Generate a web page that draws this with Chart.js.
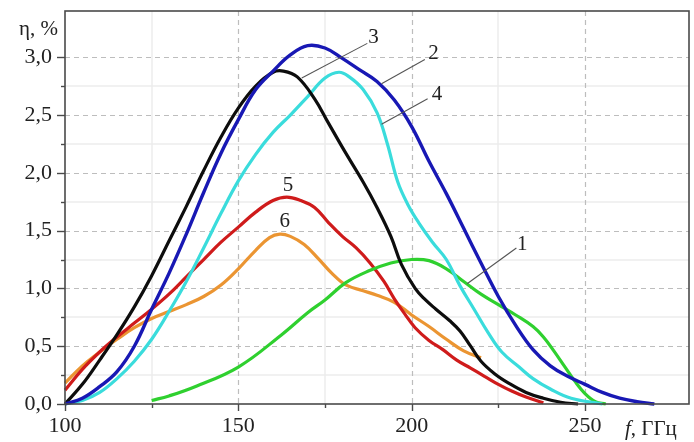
<!DOCTYPE html>
<html>
<head>
<meta charset="utf-8">
<script src="https://cdn.jsdelivr.net/npm/chart.js@4.4.1/dist/chart.umd.min.js"></script>
<style>
  html, body { margin: 0; padding: 0; background: #fff; }
  #wrap { width: 694px; height: 442px; }
</style>
</head>
<body>
<div id="wrap"><canvas id="c" width="694" height="442"></canvas></div>
<script>
// Efficiency η (%) versus frequency f (GHz) for six configurations.
const curve1F   = [125, 130, 137.5, 150, 162.5, 170, 175, 181, 187.5, 194, 200, 205, 210, 215, 220, 225, 230, 235, 238, 241, 244, 247, 250, 253, 256];
const curve1Eta = [0.03, 0.07, 0.15, 0.32, 0.6, 0.79, 0.9, 1.05, 1.15, 1.22, 1.25, 1.24, 1.17, 1.06, 0.95, 0.86, 0.77, 0.67, 0.58, 0.46, 0.33, 0.2, 0.09, 0.02, 0.0];

const curve2F   = [100, 105, 110, 115, 120, 125, 130, 135, 140, 145, 150, 155, 160, 165, 170, 175, 180, 185, 190, 195, 200, 205, 210, 215, 220, 225, 230, 235, 240, 245, 250, 255, 260, 265, 270];
const curve2Eta = [0, 0.05, 0.15, 0.28, 0.5, 0.82, 1.13, 1.47, 1.83, 2.17, 2.46, 2.72, 2.88, 3.02, 3.1, 3.08, 2.99, 2.89, 2.79, 2.63, 2.4, 2.1, 1.82, 1.52, 1.22, 0.93, 0.68, 0.47, 0.33, 0.24, 0.17, 0.1, 0.05, 0.02, 0];

const curve3F   = [100, 105, 110, 115, 120, 125, 130, 135, 140, 145, 150, 155, 160, 163, 167, 172, 176, 181, 186, 190, 194, 197, 201, 204, 207, 211, 214, 217, 220, 224, 228, 233, 238, 243, 248];
const curve3Eta = [0, 0.17, 0.38, 0.6, 0.84, 1.11, 1.41, 1.71, 2.02, 2.31, 2.56, 2.75, 2.87, 2.88, 2.83, 2.64, 2.43, 2.17, 1.92, 1.7, 1.45, 1.21, 1.0, 0.9, 0.82, 0.72, 0.63, 0.5, 0.37, 0.26, 0.18, 0.1, 0.05, 0.015, 0];

const curve4F   = [100, 105, 110, 115, 120, 125, 130, 135, 140, 145, 150, 155, 160, 165, 170, 175, 179, 182, 186, 190, 193, 196, 199, 202, 206, 210, 214, 218, 222, 226, 231, 235, 240, 246, 255];
const curve4Eta = [0, 0.03, 0.1, 0.22, 0.37, 0.56, 0.8, 1.06, 1.35, 1.65, 1.93, 2.16, 2.35, 2.5, 2.66, 2.82, 2.87, 2.83, 2.72, 2.52, 2.25, 1.92, 1.72, 1.57, 1.4, 1.25, 1.02, 0.82, 0.62, 0.45, 0.32, 0.22, 0.13, 0.05, 0];

const curve5F   = [100, 105, 110, 115, 120, 125, 130, 135, 140, 145, 150, 155, 160, 164, 168, 172, 176, 180, 184, 188, 192, 195, 198, 201, 205, 209, 213, 217, 221, 225, 229, 233, 238];
const curve5Eta = [0.12, 0.3, 0.45, 0.58, 0.7, 0.82, 0.95, 1.1, 1.25, 1.4, 1.53, 1.66, 1.76, 1.79, 1.76, 1.7, 1.57, 1.45, 1.35, 1.22, 1.06, 0.91, 0.78, 0.66, 0.55, 0.47, 0.38, 0.31, 0.24, 0.17, 0.11, 0.06, 0.01];

const curve6F   = [100, 105, 110, 115, 120, 125, 130, 135, 140, 145, 150, 155, 159, 162, 165, 169, 173, 177, 181, 186, 190, 195, 200, 205, 210, 215, 220];
const curve6Eta = [0.18, 0.33, 0.45, 0.56, 0.66, 0.74, 0.8, 0.86, 0.93, 1.03, 1.17, 1.33, 1.44, 1.47, 1.45, 1.38, 1.26, 1.13, 1.03, 0.98, 0.94, 0.88, 0.77, 0.67, 0.56, 0.46, 0.4];

const curveNames = ['1', '2', '3', '4', '5', '6'];

// Axis ranges and ticks
const xMin = 100, xMax = 280, xStep = 25;
const yMin = 0, yMax = 3.4, yStep = 0.25;
const xLabelValues = [100, 150, 200, 250];
const yLabelValues = [0, 0.5, 1.0, 1.5, 2.0, 2.5, 3.0];

const toPoints = (fs, etas) => fs.map((f, i) => ({ x: f, y: etas[i] }));

const SERIF = '"Liberation Serif", "DejaVu Serif", "Times New Roman", serif';
const fmt = v => v.toFixed(1).replace('.', ',');
const near = (a, b) => Math.abs(a - b) < 1e-6;
const isXLabel = v => xLabelValues.some(t => near(t, v));
const isYLabel = v => yLabelValues.some(t => near(t, v));
const isXMajor = v => near(v / 50, Math.round(v / 50));
const isYMajor = v => near(v * 2, Math.round(v * 2));

// Callout labels in data coordinates: text anchor and leader line end points
const callouts = [
  { text: '3', tx: 189.0, ty: 3.17, lead: [[187.2, 3.12], [168.3, 2.82]] },
  { text: '2', tx: 206.3, ty: 3.03, lead: [[203.8, 2.98], [191.3, 2.77]] },
  { text: '4', tx: 207.3, ty: 2.68, lead: [[204.6, 2.64], [191.3, 2.42]] },
  { text: '1', tx: 231.9, ty: 1.38, lead: [[230.2, 1.35], [216.0, 1.04]] },
  { text: '5', tx: 164.3, ty: 1.89, lead: null },
  { text: '6', tx: 163.4, ty: 1.58, lead: null }
];

const framePlugin = {
  id: 'frame',
  beforeDatasetsDraw(chart) {
    const { ctx, chartArea: a, scales: { x, y } } = chart;
    ctx.save();
    // minor grid: faint solid lines
    ctx.strokeStyle = '#ececec';
    ctx.lineWidth = 1.5;
    ctx.setLineDash([]);
    x.ticks.forEach(t => {
      const v = t.value;
      if (v <= xMin || v >= xMax || isXMajor(v)) return;
      const px = Math.round(x.getPixelForValue(v));
      ctx.beginPath(); ctx.moveTo(px, a.top); ctx.lineTo(px, a.bottom); ctx.stroke();
    });
    y.ticks.forEach(t => {
      const v = t.value;
      if (v <= yMin || v >= yMax || isYMajor(v)) return;
      const py = Math.round(y.getPixelForValue(v));
      ctx.beginPath(); ctx.moveTo(a.left, py); ctx.lineTo(a.right, py); ctx.stroke();
    });
    // major grid: dashed gray lines
    ctx.strokeStyle = '#bdbdbd';
    ctx.lineWidth = 1.2;
    ctx.setLineDash([5, 4]);
    x.ticks.forEach(t => {
      const v = t.value;
      if (v <= xMin || v >= xMax || !isXMajor(v)) return;
      const px = Math.round(x.getPixelForValue(v)) + 0.5;
      ctx.beginPath(); ctx.moveTo(px, a.top); ctx.lineTo(px, a.bottom); ctx.stroke();
    });
    y.ticks.forEach(t => {
      const v = t.value;
      if (v <= yMin || v >= yMax || !isYMajor(v)) return;
      const py = Math.round(y.getPixelForValue(v)) + 0.5;
      ctx.beginPath(); ctx.moveTo(a.left, py); ctx.lineTo(a.right, py); ctx.stroke();
    });
    ctx.restore();
  },
  afterDatasetsDraw(chart) {
    const { ctx, chartArea: a, scales: { x, y } } = chart;
    ctx.save();
    // box around the plot area
    ctx.setLineDash([]);
    ctx.strokeStyle = '#4a4a4a';
    ctx.lineWidth = 1.6;
    ctx.strokeRect(a.left, a.top, a.right - a.left, a.bottom - a.top);
    // tick marks, pointing outwards
    ctx.lineWidth = 1.4;
    x.ticks.forEach(t => {
      const v = t.value;
      if (v >= xMax) return;
      const px = Math.round(x.getPixelForValue(v)) + 0.5;
      const len = isXMajor(v) ? 7 : 4;
      ctx.beginPath(); ctx.moveTo(px, a.bottom); ctx.lineTo(px, a.bottom + len); ctx.stroke();
    });
    y.ticks.forEach(t => {
      const v = t.value;
      if (v >= yMax) return;
      const py = Math.round(y.getPixelForValue(v)) + 0.5;
      const len = isYMajor(v) ? 8 : 4;
      ctx.beginPath(); ctx.moveTo(a.left, py); ctx.lineTo(a.left - len, py); ctx.stroke();
    });

    // curve numbers with leader lines
    ctx.strokeStyle = '#555';
    ctx.lineWidth = 1.1;
    ctx.fillStyle = '#222';
    ctx.font = '21px ' + SERIF;
    ctx.textAlign = 'center';
    ctx.textBaseline = 'middle';
    callouts.forEach(c => {
      if (c.lead) {
        ctx.beginPath();
        ctx.moveTo(x.getPixelForValue(c.lead[0][0]), y.getPixelForValue(c.lead[0][1]));
        ctx.lineTo(x.getPixelForValue(c.lead[1][0]), y.getPixelForValue(c.lead[1][1]));
        ctx.stroke();
      }
      ctx.fillText(c.text, x.getPixelForValue(c.tx), y.getPixelForValue(c.ty));
    });

    // axis titles
    ctx.textAlign = 'right';
    ctx.font = '21px ' + SERIF;
    ctx.fillText('η, %', a.left - 7, y.getPixelForValue(3.25) + 1);

    ctx.textAlign = 'left';
    const ty = a.bottom + 25;
    let tx = 625;
    ctx.font = 'italic 21px ' + SERIF;
    ctx.fillText('f', tx, ty);
    tx += ctx.measureText('f').width;
    ctx.font = '21px ' + SERIF;
    ctx.fillText(', ГГц', tx, ty);
    ctx.restore();
  }
};

const series = [
  { label: curveNames[0], f: curve1F, eta: curve1Eta, color: '#2fd02f', order: 3, width: 3.2 },
  { label: curveNames[1], f: curve2F, eta: curve2Eta, color: '#1818b4', order: 0, width: 3.4 },
  { label: curveNames[2], f: curve3F, eta: curve3Eta, color: '#0d0d0d', order: 1, width: 3.2 },
  { label: curveNames[3], f: curve4F, eta: curve4Eta, color: '#3adcdc', order: 2, width: 3.2 },
  { label: curveNames[4], f: curve5F, eta: curve5Eta, color: '#cf1b1b', order: 4, width: 3.2 },
  { label: curveNames[5], f: curve6F, eta: curve6Eta, color: '#eb9532', order: 5, width: 3.2 }
];

new Chart(document.getElementById('c'), {
  type: 'line',
  data: {
    datasets: series.map(s => ({
      label: s.label,
      data: toPoints(s.f, s.eta),
      borderColor: s.color,
      borderWidth: s.width,
      pointRadius: 0,
      fill: false,
      tension: 0.4,
      order: s.order,
      clip: 4
    }))
  },
  options: {
    responsive: false,
    devicePixelRatio: 1,
    animation: false,
    events: [],
    layout: { padding: { left: 0, top: 11, right: 5, bottom: 0 } },
    plugins: { legend: { display: false }, tooltip: { enabled: false } },
    scales: {
      x: {
        type: 'linear',
        min: xMin, max: xMax,
        grid: { display: true, drawOnChartArea: false, drawTicks: false, color: 'rgba(0,0,0,0)' },
        border: { display: false },
        ticks: {
          stepSize: xStep,
          autoSkip: false,
          maxRotation: 0,
          padding: 9,
          color: '#222',
          font: { family: SERIF, size: 22 },
          callback: v => (isXLabel(v) ? String(Math.round(v)) : '')
        },
        afterFit: s => { s.height = 38; s.paddingLeft = 0; s.paddingRight = 0; }
      },
      y: {
        type: 'linear',
        min: yMin, max: yMax,
        grid: { display: true, drawOnChartArea: false, drawTicks: false, color: 'rgba(0,0,0,0)' },
        border: { display: false },
        ticks: {
          stepSize: yStep,
          autoSkip: false,
          padding: 13,
          color: '#222',
          font: { family: SERIF, size: 22 },
          callback: v => (isYLabel(v) ? fmt(v) : '')
        },
        afterFit: s => { s.width = 65; s.paddingTop = 0; s.paddingBottom = 0; }
      }
    }
  },
  plugins: [framePlugin]
});
</script>
</body>
</html>
